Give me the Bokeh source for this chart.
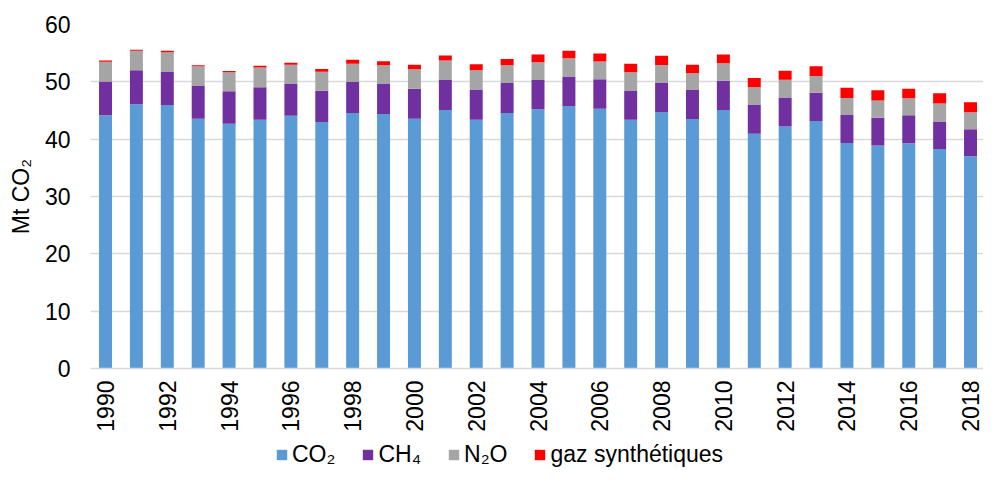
from bokeh.plotting import figure
from bokeh.models import Range1d, FixedTicker, Legend, LegendItem, ColumnDataSource
from bokeh.layouts import column
from bokeh.embed import file_html
from bokeh.resources import INLINE
import math

years = list(range(1990, 2019))
co2 = [44.15, 46.1, 45.95, 43.55, 42.7, 43.4, 44.1, 43.0, 44.55, 44.4,
       43.55, 45.1, 43.4, 44.55, 45.2, 45.8, 45.3, 43.4, 44.75, 43.5,
       45.1, 40.95, 42.2, 43.15, 39.35, 38.9, 39.3, 38.3, 37.0]
ch4 = [5.9, 5.9, 5.85, 5.8, 5.65, 5.65, 5.6, 5.45, 5.4, 5.3,
       5.25, 5.3, 5.25, 5.25, 5.1, 5.15, 5.15, 5.1, 5.15, 5.15,
       5.1, 5.1, 5.05, 4.95, 4.85, 4.85, 4.85, 4.8, 4.75]
n2o = [3.45, 3.4, 3.35, 3.35, 3.3, 3.45, 3.3, 3.3, 3.2, 3.2,
       3.4, 3.3, 3.35, 3.1, 3.1, 3.15, 3.1, 3.15, 3.05, 2.85,
       3.05, 3.0, 3.1, 2.9, 3.0, 3.0, 3.0, 3.1, 2.95]
fgas = [0.2, 0.2, 0.25, 0.2, 0.25, 0.3, 0.35, 0.5, 0.7, 0.7,
        0.8, 0.9, 1.05, 1.1, 1.35, 1.3, 1.4, 1.5, 1.6, 1.5,
        1.5, 1.6, 1.6, 1.7, 1.75, 1.8, 1.65, 1.8, 1.75]
series = ["co2", "ch4", "n2o", "fgas"]
labels = ["CO\u2082", "CH\u2084", "N\u2082O", "gaz synthétiques"]
colors = ["#5b9bd5", "#7030a0", "#a5a5a5", "#ff0000"]
y_ticks = [0, 10, 20, 30, 40, 50, 60]
x_ticks = list(range(1990, 2019, 2))

source = ColumnDataSource(dict(year=years, co2=co2, ch4=ch4, n2o=n2o, fgas=fgas))

FONT = "Liberation Sans"
FS = "23px"

p = figure(width=983, height=440, output_backend="svg", toolbar_location=None,
           x_range=Range1d(1989.514, 2018.42), y_range=Range1d(0, 60),
           min_border_left=90, min_border_top=24, min_border_bottom=72,
           min_border_right=0)
p.outline_line_color = None

p.vbar_stack(series, x="year", width=0.42, color=colors,
             line_color=None, source=source)

p.xgrid.grid_line_color = None
p.ygrid.grid_line_color = "#d9d9d9"
p.ygrid.grid_line_width = 1.5
p.yaxis.ticker = FixedTicker(ticks=y_ticks)
p.xaxis.ticker = FixedTicker(ticks=x_ticks)

for ax in (p.xaxis[0], p.yaxis[0]):
    ax.major_tick_line_color = None
    ax.minor_tick_line_color = None
    ax.major_tick_out = 0
    ax.major_tick_in = 0
    ax.minor_tick_out = 0
    ax.major_label_text_font = FONT
    ax.major_label_text_font_size = FS
    ax.major_label_text_color = "#000000"

p.yaxis.axis_line_color = None
p.yaxis.major_label_standoff = 20
p.yaxis.axis_label = "Mt CO\u2082"
p.yaxis.axis_label_text_font = FONT
p.yaxis.axis_label_text_font_size = FS
p.yaxis.axis_label_text_font_style = "normal"
p.yaxis.axis_label_text_color = "#000000"
p.yaxis.axis_label_standoff = 8

p.xaxis.axis_line_color = "#d9d9d9"
p.xaxis.axis_line_width = 1.5
p.xaxis.major_label_orientation = math.pi / 2
p.xaxis.major_label_standoff = 12

# legend strip below the chart (swatches drawn by legend from off-view quads)
lp = figure(width=983, height=28, output_backend="svg", toolbar_location=None,
            x_range=Range1d(0, 1), y_range=Range1d(0, 1),
            min_border_left=0, min_border_right=0, min_border_top=0,
            min_border_bottom=0)
lp.axis.visible = False
lp.grid.visible = False
lp.outline_line_color = None
swatches = [lp.quad(left=[-10], right=[-9], bottom=[-10], top=[-9],
                    fill_color=c, line_color=None) for c in colors]
items = [LegendItem(label=l, renderers=[r]) for l, r in zip(labels, swatches)]
legend = Legend(items=items, orientation="horizontal", location=(185, 0),
                glyph_width=13, glyph_height=13, label_standoff=4, spacing=26,
                padding=0, margin=0, border_line_color=None,
                background_fill_alpha=0,
                label_text_font=FONT, label_text_font_size=FS,
                label_text_color="#000000")
lp.add_layout(legend, "center")

layout = column(p, lp, spacing=0)
open("out.html", "w").write(file_html(layout, INLINE))
